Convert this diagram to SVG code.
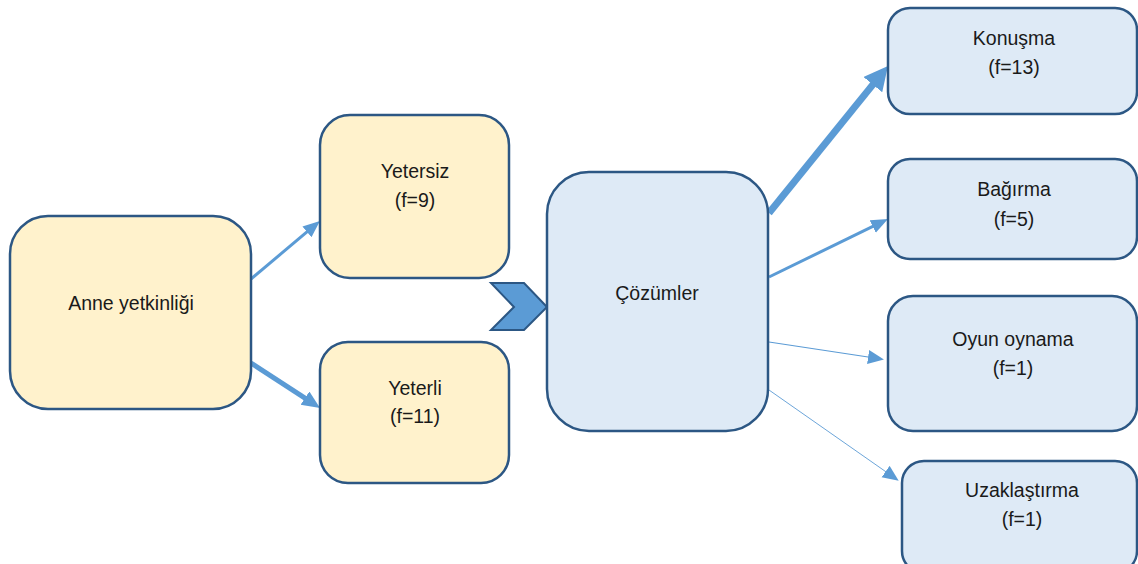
<svg xmlns="http://www.w3.org/2000/svg" width="1138" height="564" viewBox="0 0 1138 564">
<style>
.box{stroke:#2C5784;stroke-width:2.5}
.y{fill:#FFF2CC}
.b{fill:#DEEAF6}
text{font-family:"Liberation Sans",Arial,sans-serif;font-size:19.5px;fill:#1a1a1a;text-anchor:middle}
.c{stroke:#5B9BD5;fill:none}
</style>
<defs>
<marker id="mBig" markerUnits="userSpaceOnUse" markerWidth="26" markerHeight="26" refX="8" refY="12" orient="auto"><path d="M0,0 L24,12 L0,24 z" fill="#5B9BD5"/></marker>
<marker id="mMed" markerUnits="userSpaceOnUse" markerWidth="20" markerHeight="18" refX="6" refY="8" orient="auto"><path d="M0,0 L18,8 L0,16 z" fill="#5B9BD5"/></marker>
<marker id="mSmall" markerUnits="userSpaceOnUse" markerWidth="19" markerHeight="16" refX="7" refY="7" orient="auto"><path d="M0,0 L17,7 L0,14 z" fill="#5B9BD5"/></marker>
<marker id="mThin" markerUnits="userSpaceOnUse" markerWidth="18" markerHeight="16" refX="10" refY="7" orient="auto"><path d="M0,0 L16,7 L0,14 z" fill="#5B9BD5"/></marker>
</defs>
<rect width="1138" height="564" fill="#ffffff"/>
<g id="connectors">
<line class="c" x1="251" y1="279" x2="312.3" y2="227.4" stroke-width="3" marker-end="url(#mSmall)"/>
<line class="c" x1="251" y1="363" x2="310" y2="401.4" stroke-width="5" marker-end="url(#mMed)"/>
<line class="c" x1="769" y1="213" x2="877.9" y2="78.4" stroke-width="7" marker-end="url(#mBig)"/>
<line class="c" x1="769" y1="277" x2="879" y2="223.4" stroke-width="3" marker-end="url(#mSmall)"/>
<line class="c" x1="769" y1="342" x2="878" y2="358.5" stroke-width="1.2" marker-end="url(#mThin)"/>
<line class="c" x1="769" y1="390" x2="893.8" y2="477.3" stroke-width="0.9" marker-end="url(#mThin)"/>
<polygon id="chevron" points="491,283 524,283 547,307 524,330 491,330 514,307" fill="#5B9BD5" stroke="#2C5784" stroke-width="2" stroke-linejoin="miter"/>
</g>
<g id="anne"><rect class="box y" x="10" y="216" width="241" height="193" rx="38"/><text x="131" y="310">Anne yetkinliği</text></g>
<g id="yetersiz"><rect class="box y" x="320" y="115" width="189" height="163" rx="30"/><text x="415" y="178">Yetersiz</text><text x="415" y="207">(f=9)</text></g>
<g id="yeterli"><rect class="box y" x="320" y="342" width="189" height="141" rx="28"/><text x="415" y="395">Yeterli</text><text x="415" y="423">(f=11)</text></g>
<g id="cozumler"><rect class="box b" x="547" y="172" width="221" height="259" rx="42"/><text x="657" y="300">Çözümler</text></g>
<g id="konusma"><rect class="box b" x="888" y="8" width="249" height="106" rx="22"/><text x="1014" y="45">Konuşma</text><text x="1014" y="74">(f=13)</text></g>
<g id="bagirma"><rect class="box b" x="888" y="159" width="249" height="100" rx="22"/><text x="1014" y="196">Bağırma</text><text x="1014" y="226">(f=5)</text></g>
<g id="oyun"><rect class="box b" x="888" y="296" width="249" height="135" rx="25"/><text x="1013" y="346">Oyun oynama</text><text x="1013" y="375">(f=1)</text></g>
<g id="uzaklastirma"><rect class="box b" x="902" y="461" width="235" height="112" rx="22"/><text x="1022" y="497">Uzaklaştırma</text><text x="1022" y="526">(f=1)</text></g>
</svg>
